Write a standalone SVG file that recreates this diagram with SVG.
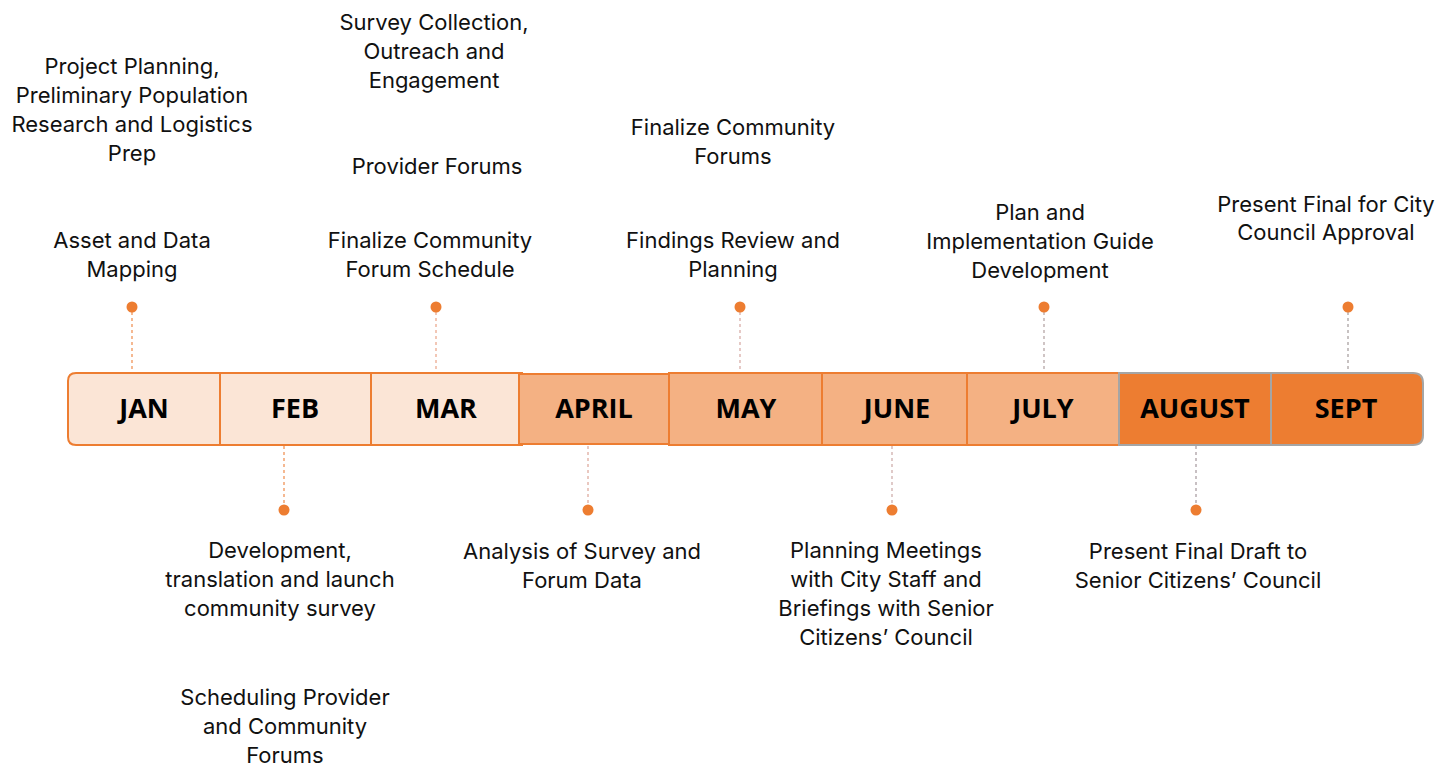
<svg xmlns="http://www.w3.org/2000/svg" width="1456" height="767" viewBox="0 0 1456 767">
  <style>
    .lbl { font-family: Inter, "Liberation Sans", sans-serif; font-size: 22px; fill: #111; text-anchor: middle; }
    .mon { font-family: "Open Sans", "Liberation Sans", sans-serif; font-weight: 700; font-size: 27px; fill: #000; text-anchor: middle; }
    .light { fill: #FBE5D6; stroke: #ED7D31; stroke-width: 2; }
    .mid { fill: #F4B183; stroke: #ED7D31; stroke-width: 2; }
    .dark { fill: #ED7D31; stroke: #A5A5A5; stroke-width: 2; }
    .dot { fill: #ED7D31; }
    .lead { fill: none; stroke-width: 1.2; stroke-dasharray: 3 3; }
  </style>

  <!-- month bar -->
  <g id="month-jan">
    <path class="light" d="M76,373 H220 V445 H76 Q68,445 68,437 V381 Q68,373 76,373 Z"/>
    <text class="mon" x="144" y="418">JAN</text>
  </g>
  <g id="month-feb">
    <rect class="light" x="220" y="373" width="151" height="72"/>
    <text class="mon" x="295" y="418">FEB</text>
  </g>
  <g id="month-mar">
    <rect class="light" x="371" y="373" width="151" height="72"/>
    <text class="mon" x="446" y="418">MAR</text>
  </g>
  <g id="month-april">
    <rect class="mid" x="519" y="374" width="150" height="70"/>
    <text class="mon" x="594" y="418">APRIL</text>
  </g>
  <g id="month-may">
    <rect class="mid" x="669" y="373" width="153" height="72"/>
    <text class="mon" x="746" y="418">MAY</text>
  </g>
  <g id="month-june">
    <rect class="mid" x="822" y="373" width="145" height="72"/>
    <text class="mon" x="897" y="418">JUNE</text>
  </g>
  <g id="month-july">
    <rect class="mid" x="967" y="373" width="152" height="72"/>
    <text class="mon" x="1043" y="418">JULY</text>
  </g>
  <g id="month-august">
    <rect class="dark" x="1119" y="373" width="152" height="72"/>
    <text class="mon" x="1195" y="418">AUGUST</text>
  </g>
  <g id="month-sept">
    <path class="dark" d="M1271,373 H1413 Q1423,373 1423,383 V435 Q1423,445 1413,445 H1271 Z"/>
    <text class="mon" x="1346" y="418">SEPT</text>
  </g>

  <!-- leader lines and dots -->
  <g id="connectors">
    <line class="lead" x1="132" y1="312" x2="132" y2="372" stroke="#EF8A4A"/>
    <line class="lead" x1="284" y1="446" x2="284" y2="505" stroke="#EF8A4A"/>
    <line class="lead" x1="436" y1="312" x2="436" y2="372" stroke="#E9A286"/>
    <line class="lead" x1="588" y1="446" x2="588" y2="505" stroke="#DDA497"/>
    <line class="lead" x1="740" y1="312" x2="740" y2="372" stroke="#D5A6A0"/>
    <line class="lead" x1="892" y1="446" x2="892" y2="505" stroke="#CBA7A5"/>
    <line class="lead" x1="1044" y1="312" x2="1044" y2="372" stroke="#B09E9E"/>
    <line class="lead" x1="1196" y1="446" x2="1196" y2="505" stroke="#A4979C"/>
    <line class="lead" x1="1348" y1="312" x2="1348" y2="372" stroke="#A39A9A"/>
    <circle class="dot" cx="132" cy="307" r="5.5"/>
    <circle class="dot" cx="284" cy="510" r="5.5"/>
    <circle class="dot" cx="436" cy="307" r="5.5"/>
    <circle class="dot" cx="588" cy="510" r="5.5"/>
    <circle class="dot" cx="740" cy="307" r="5.5"/>
    <circle class="dot" cx="892" cy="510" r="5.5"/>
    <circle class="dot" cx="1044" cy="307" r="5.5"/>
    <circle class="dot" cx="1196" cy="510" r="5.5"/>
    <circle class="dot" cx="1348" cy="307" r="5.5"/>
  </g>

  <!-- milestone labels above the bar -->
  <g id="label-project-planning">
    <text class="lbl" x="132" y="74">Project Planning,</text>
    <text class="lbl" x="132" y="103">Preliminary Population</text>
    <text class="lbl" x="132" y="132">Research and Logistics</text>
    <text class="lbl" x="132" y="161">Prep</text>
  </g>
  <g id="label-asset-mapping">
    <text class="lbl" x="132" y="248">Asset and Data</text>
    <text class="lbl" x="132" y="277">Mapping</text>
  </g>
  <g id="label-survey-collection">
    <text class="lbl" x="434" y="30">Survey Collection,</text>
    <text class="lbl" x="434" y="59">Outreach and</text>
    <text class="lbl" x="434" y="88">Engagement</text>
  </g>
  <g id="label-provider-forums">
    <text class="lbl" x="437" y="174">Provider Forums</text>
  </g>
  <g id="label-forum-schedule">
    <text class="lbl" x="430" y="248">Finalize Community</text>
    <text class="lbl" x="430" y="277">Forum Schedule</text>
  </g>
  <g id="label-finalize-forums">
    <text class="lbl" x="733" y="135">Finalize Community</text>
    <text class="lbl" x="733" y="164">Forums</text>
  </g>
  <g id="label-findings-review">
    <text class="lbl" x="733" y="248">Findings Review and</text>
    <text class="lbl" x="733" y="277">Planning</text>
  </g>
  <g id="label-plan-guide">
    <text class="lbl" x="1040" y="220">Plan and</text>
    <text class="lbl" x="1040" y="249">Implementation Guide</text>
    <text class="lbl" x="1040" y="278">Development</text>
  </g>
  <g id="label-council-approval">
    <text class="lbl" x="1326" y="212">Present Final for City</text>
    <text class="lbl" x="1326" y="240">Council Approval</text>
  </g>

  <!-- milestone labels below the bar -->
  <g id="label-community-survey">
    <text class="lbl" x="280" y="558">Development,</text>
    <text class="lbl" x="280" y="587">translation and launch</text>
    <text class="lbl" x="280" y="616">community survey</text>
  </g>
  <g id="label-scheduling">
    <text class="lbl" x="285" y="705">Scheduling Provider</text>
    <text class="lbl" x="285" y="734">and Community</text>
    <text class="lbl" x="285" y="763">Forums</text>
  </g>
  <g id="label-analysis">
    <text class="lbl" x="582" y="559">Analysis of Survey and</text>
    <text class="lbl" x="582" y="588">Forum Data</text>
  </g>
  <g id="label-planning-meetings">
    <text class="lbl" x="886" y="558">Planning Meetings</text>
    <text class="lbl" x="886" y="587">with City Staff and</text>
    <text class="lbl" x="886" y="616">Briefings with Senior</text>
    <text class="lbl" x="886" y="645">Citizens’ Council</text>
  </g>
  <g id="label-final-draft">
    <text class="lbl" x="1198" y="559">Present Final Draft to</text>
    <text class="lbl" x="1198" y="588">Senior Citizens’ Council</text>
  </g>
</svg>
